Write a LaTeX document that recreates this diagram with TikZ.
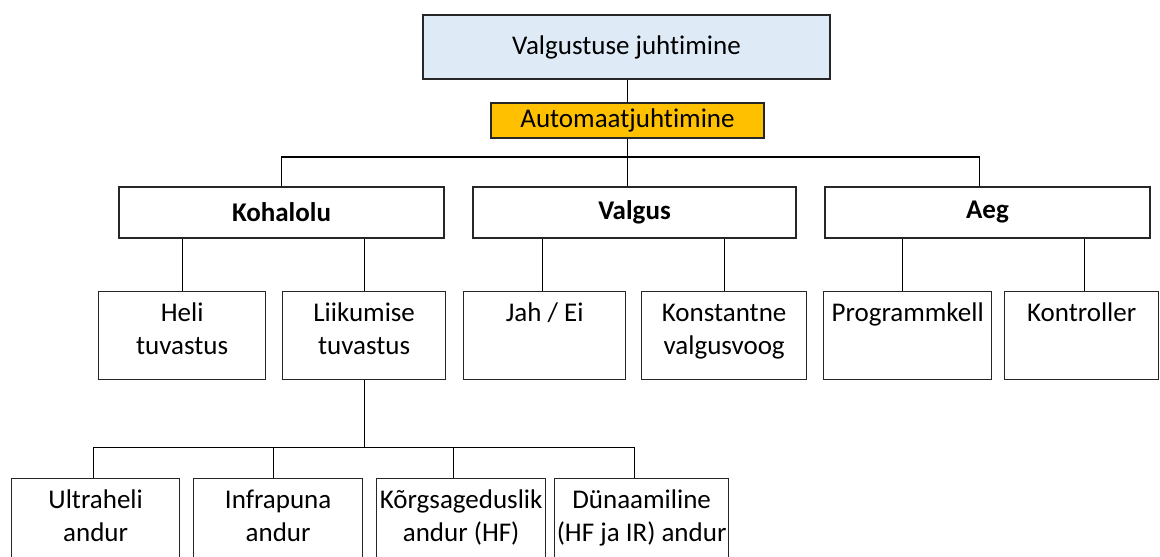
\documentclass[tikz,border=0pt]{standalone}
\usepackage{fontspec}
\setmainfont[RawFeature=-liga]{Carlito}
\usepackage{tikz}

\definecolor{headblue}{HTML}{DEEAF6}
\definecolor{autoyellow}{HTML}{FFC000}
\newcommand{\celltext}[3]{\parbox[c][#2pt][t]{#1pt}{\centering\rule{0pt}{30pt}#3}}

\begin{document}
\begin{tikzpicture}[x=1pt,y=-1pt,line width=1.3pt,
  font=\fontsize{27}{33}\selectfont,
  box/.style={draw=black!85,inner sep=0pt},
  leaf/.style={box,anchor=north west}]
\useasboundingbox (0,0) rectangle (1160,557);
\clip (0,0) rectangle (1160,557);
\node[box,fill=headblue,minimum width=407pt,minimum height=64pt] (head) at (626.5,47) {Valgustuse juhtimine};
\node[box,fill=autoyellow,minimum width=273pt,minimum height=35pt] (auto) at (627.5,120.5) {Automaatjuhtimine};
\node[box,minimum width=325pt,minimum height=51pt] (koh) at (281.5,212.5) {\textbf{Kohalolu}};
\node[box,minimum width=323pt,minimum height=51pt] (valg) at (634.5,212.5) {\textbf{Valgus}};
\node[box,minimum width=325pt,minimum height=51pt] (aeg) at (987.5,212.5) {\textbf{Aeg}};
\node[leaf] (heli) at (98,291) {\celltext{167}{88}{Heli\\tuvastus}};
\node[leaf] (liik) at (282,291) {\celltext{163}{88}{Liikumise\\tuvastus}};
\node[leaf] (jah) at (463,291) {\celltext{162}{88}{Jah / Ei}};
\node[leaf] (konst) at (641,291) {\celltext{165}{88}{Konstantne\\valgusvoog}};
\node[leaf] (prog) at (823,291) {\celltext{168}{88}{Programmkell}};
\node[leaf] (kontr) at (1004,291) {\celltext{154}{88}{Kontroller}};
\node[leaf] (ultra) at (11,478) {\celltext{168}{100}{Ultraheli\\andur}};
\node[leaf] (infra) at (193,478) {\celltext{169}{100}{Infrapuna\\andur}};
\node[leaf] (hf) at (376,478) {\celltext{169}{100}{Kõrgsageduslik\\andur (HF)}};
\node[leaf] (dyn) at (554,478) {\celltext{174}{100}{Dünaamiline\\(HF ja IR) andur}};
\coordinate (bus2) at (0,157);
\coordinate (bus4) at (0,447.5);
\draw (auto.north) -- (auto.north |- head.south);
\draw (auto.south) -- (auto.south |- valg.north);
\draw (koh.north) |- ([xshift=-8pt]aeg.north |- bus2) -- ([xshift=-8pt]aeg.north);
\foreach \c/\p/\s in {heli/koh/0, liik/koh/0, jah/valg/-2, konst/valg/0, prog/aeg/-5, kontr/aeg/3}
  \draw ([xshift=\s pt]\c.north) -- ([xshift=\s pt]\c.north |- \p.south);
\draw (liik.south) -- (liik.south |- bus4);
\draw ([xshift=-2pt]ultra.north) |- ([xshift=-7pt]dyn.north |- bus4) -- ([xshift=-7pt]dyn.north);
\foreach \c/\s in {infra/-4.5, hf/-8}
  \draw ([xshift=\s pt]\c.north) -- ([xshift=\s pt]\c.north |- bus4);
\end{tikzpicture}
\end{document}
